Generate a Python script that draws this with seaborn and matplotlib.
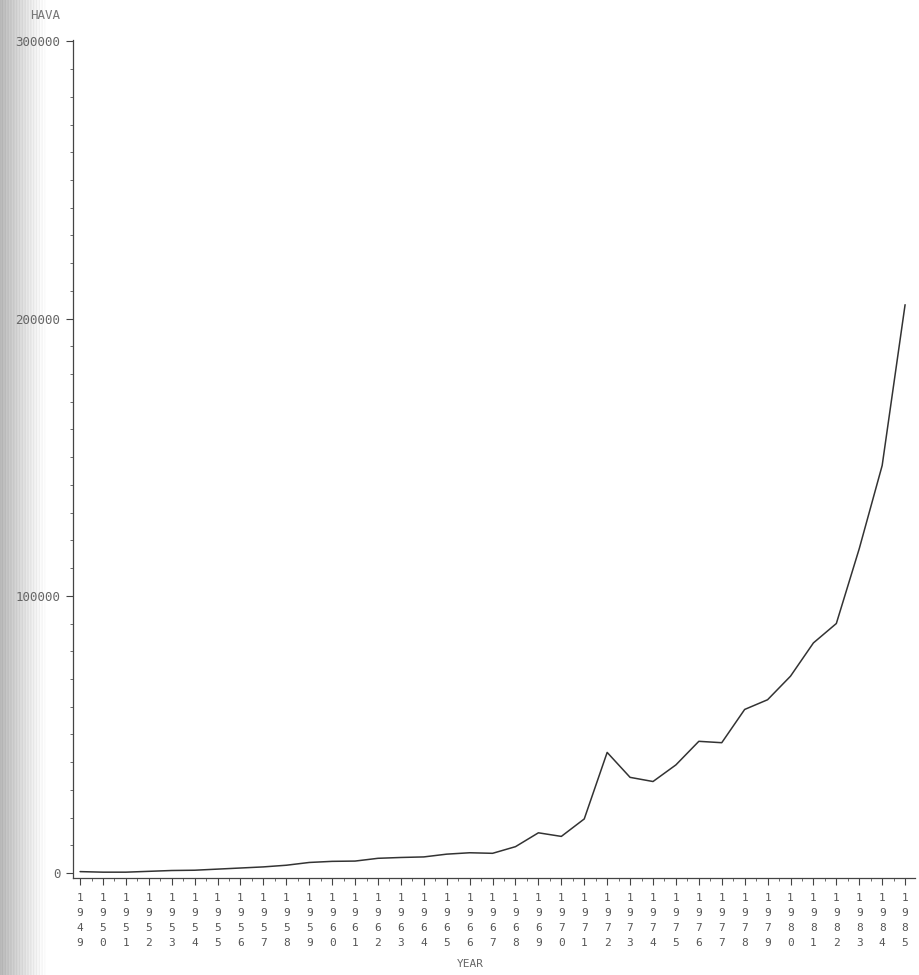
import numpy as np
import pandas as pd
import matplotlib
matplotlib.use("Agg")
import matplotlib.pyplot as plt
import matplotlib.ticker as mticker
import seaborn as sns

# values
years = list(range(1949, 1986))
hava = [500, 300, 300, 600, 900, 1000, 1400, 1800, 2200, 2800,
        3800, 4200, 4300, 5300, 5600, 5800, 6800, 7300, 7100, 9500,
        14500, 13200, 19500, 43500, 34500, 33000, 39000, 47500, 47000, 59000,
        62500, 71000, 83000, 90000, 117000, 147000, 205000]
y_ticks = [0, 100000, 200000, 300000]
y_ticklabels = ["0", "100000", "200000", "300000"]

df = pd.DataFrame({"YEAR": years, "HAVA": hava})

sns.set_style("ticks")
plt.rcParams["font.family"] = ["DejaVu Sans Mono"]

fig = plt.figure(figsize=(9.2, 9.75), dpi=100)

# grey shadow of the scanner along the left edge
shade = fig.add_axes([0, 0, 0.05, 1])
grad = np.linspace(0.62, 1.0, 60) ** 0.7
grad = grad + 0.03 * np.sin(np.arange(60) * 1.7)
shade.imshow(np.tile(grad, (10, 1)), cmap="gray", vmin=0, vmax=1, aspect="auto")
shade.axis("off")

ax = fig.add_axes([0.0793, 0.0995, 0.9157, 0.8595])
ax.set_facecolor("none")
sns.lineplot(data=df, x="YEAR", y="HAVA", ax=ax, color="#333333", linewidth=1.1)

ax.set_xlim(1948.69, 1985.45)
ax.set_ylim(-1800, 300500)

ax.set_xticks(years)
ax.set_xticklabels(["\n".join(str(y)) for y in years], fontsize=8,
                   color="#555555", linespacing=1.6)
ax.xaxis.set_minor_locator(mticker.MultipleLocator(0.5))
ax.set_yticks(y_ticks)
ax.set_yticklabels(y_ticklabels, fontsize=9, color="#666666")
ax.yaxis.set_minor_locator(mticker.MultipleLocator(10000))

ax.tick_params(axis="both", which="major", length=5, width=0.8, color="#444444")
ax.tick_params(axis="both", which="minor", length=2.5, width=0.6, color="#555555")
ax.tick_params(axis="y", pad=4)
ax.tick_params(axis="x", pad=6)

for s in ["left", "bottom"]:
    ax.spines[s].set_color("#444444")
    ax.spines[s].set_linewidth(0.9)
sns.despine(ax=ax)

ax.set_xlabel("")
ax.set_ylabel("")
fig.text(0.049, 0.984, "HAVA", fontsize=9, color="#777777", ha="center", va="center")
fig.text(0.511, 0.011, "YEAR", fontsize=8, color="#666666", ha="center", va="center")

fig.savefig("out.png", dpi=100, facecolor="white")
